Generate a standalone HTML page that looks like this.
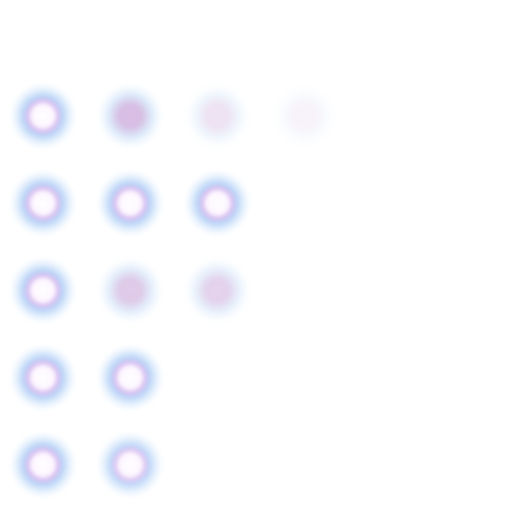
<!DOCTYPE html>
<html><head><meta charset="utf-8"><style>
html,body{margin:0;padding:0;background:#fff;width:512px;height:512px;overflow:hidden}
</style></head><body>
<svg id="sheet" width="512" height="512" viewBox="0 0 512 512" xmlns="http://www.w3.org/2000/svg">
<defs>
<filter id="soft"><feGaussianBlur stdDeviation="1.5"/></filter>
<radialGradient id="bright">
<stop offset="0" stop-color="#ffffff" stop-opacity="1"/>
<stop offset="0.3" stop-color="#fdf6ff" stop-opacity="1"/>
<stop offset="0.42" stop-color="#d4b6ee" stop-opacity="0.85"/>
<stop offset="0.55" stop-color="#8fb8f2" stop-opacity="0.6"/>
<stop offset="0.72" stop-color="#a8cdf6" stop-opacity="0.35"/>
<stop offset="0.88" stop-color="#d4e6fb" stop-opacity="0.12"/>
<stop offset="1" stop-color="#ffffff" stop-opacity="0"/>
</radialGradient>
<radialGradient id="dim">
<stop offset="0" stop-color="#d2b0e0" stop-opacity="1"/>
<stop offset="0.3" stop-color="#c8a4d8" stop-opacity="0.9"/>
<stop offset="0.45" stop-color="#b0a4dc" stop-opacity="0.6"/>
<stop offset="0.62" stop-color="#9cc4f2" stop-opacity="0.4"/>
<stop offset="0.85" stop-color="#cfe3fa" stop-opacity="0.12"/>
<stop offset="1" stop-color="#ffffff" stop-opacity="0"/>
</radialGradient>
</defs>
</svg>
<script>
const rowIntensity = [[1,0.8,0.35,0.15],[1,1,1],[1,0.65,0.55],[1,1],[1,0.9]];
const rowStyle = [["bright","dim","dim","dim"],["bright","bright","bright"],["bright","dim","dim"],["bright","bright"],["bright","bright"]];
const x0=43, y0=116, step=87.2, r=36;
const svg=document.getElementById('sheet');
rowIntensity.forEach((row,ri)=>{
  row.forEach((v,ci)=>{
    const c=document.createElementNS('http://www.w3.org/2000/svg','circle');
    c.setAttribute('cx', x0+ci*step);
    c.setAttribute('cy', y0+ri*step);
    c.setAttribute('r', r);
    c.setAttribute('fill','url(#'+rowStyle[ri][ci]+')');
    c.setAttribute('filter','url(#soft)');
    c.setAttribute('opacity', v);
    
    
    svg.appendChild(c);
  });
});
</script>
</body></html>
